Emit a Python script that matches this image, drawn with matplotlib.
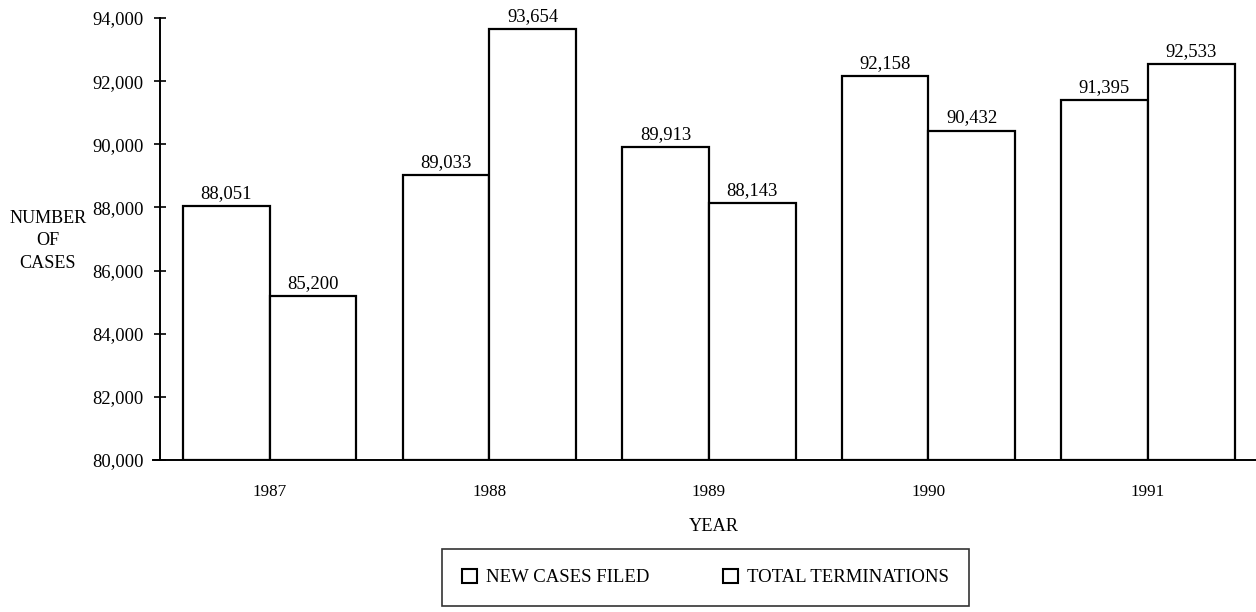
import matplotlib
matplotlib.use("Agg")
import matplotlib.pyplot as plt
import numpy as np
from matplotlib.patches import Patch
from matplotlib.ticker import FuncFormatter

years = ["1987", "1988", "1989", "1990", "1991"]
new_cases = [88051, 89033, 89913, 92158, 91395]
terminations = [85200, 93654, 88143, 90432, 92533]
yticks = [80000, 82000, 84000, 86000, 88000, 90000, 92000, 94000]

plt.rcParams['font.family'] = ['Liberation Serif', 'DejaVu Serif']

fig = plt.figure(figsize=(12.56, 6.12), dpi=100)
ax = fig.add_axes([160/1256, 152/612, 1 - 160/1256 + 0.01, 442/612])

x = np.arange(len(years))
w = 0.395
ax.bar(x - w/2, np.array(new_cases) - 80000, w, bottom=80000,
       facecolor='white', edgecolor='black', linewidth=1.6)
ax.bar(x + w/2, np.array(terminations) - 80000, w, bottom=80000,
       facecolor='white', edgecolor='black', linewidth=1.6)

for xs, vals in ((x - w/2, new_cases), (x + w/2, terminations)):
    for xi, v in zip(xs, vals):
        ax.annotate(f"{v:,}", (xi, v), xytext=(0, 3), textcoords='offset points',
                    ha='center', va='bottom', fontsize=13.4)

ax.set_xlim(-0.5, 4.55)
ax.set_ylim(80000, 94000)
ax.set_yticks(yticks)
ax.yaxis.set_major_formatter(FuncFormatter(lambda v, p: f"{int(v):,}"))
ax.set_xticks(x)
ax.set_xticklabels(years)
ax.tick_params(axis='x', length=0, pad=17.5, labelsize=12.3)
ax.tick_params(axis='y', direction='inout', length=8, width=1.2, pad=8.0, labelsize=13.3)
for s in ('top', 'right'):
    ax.spines[s].set_visible(False)
ax.spines['left'].set_linewidth(1.4)
ax.spines['bottom'].set_linewidth(1.4)
ax.spines['bottom'].set_bounds(-0.53, 4.6)
ax.spines['bottom'].set_clip_on(False)

ax.set_xlabel("YEAR", fontsize=13.2, labelpad=12.5)
fig.text(48/1256, 1 - 241/612, "NUMBER\nOF\nCASES", ha='center', va='center',
         fontsize=13.1, linespacing=1.45)

handles = [Patch(facecolor='white', edgecolor='black', linewidth=1.5),
           Patch(facecolor='white', edgecolor='black', linewidth=1.5)]
leg = fig.legend(handles, ["NEW CASES FILED", "TOTAL TERMINATIONS"],
                 loc='center', bbox_to_anchor=(442/1256, 5/612, 527/1256, 59/612),
                 mode='expand', ncol=2, frameon=True, fancybox=False, borderaxespad=0,
                 edgecolor='black', fontsize=13.5, handlelength=0.8, handleheight=0.8,
                 handletextpad=0.5, borderpad=1.05, columnspacing=3)
leg.get_frame().set_linewidth(1.2)

fig.savefig("out.png", dpi=100)
